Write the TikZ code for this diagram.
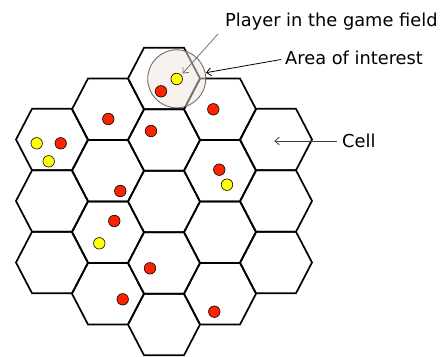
\documentclass[tikz,border=0pt]{standalone}
\usepackage{fontspec}
\setmainfont{DejaVu Sans}
\usetikzlibrary{arrows.meta}
\definecolor{dotred}{RGB}{255,34,0}
\definecolor{dotyellow}{RGB}{255,255,0}
\definecolor{aoifill}{RGB}{239,230,219}
\definecolor{aoiline}{RGB}{110,110,110}
\begin{document}
\begin{tikzpicture}[x=1pt,y=-1pt,
  hexline/.style={line width=1.7pt,line join=miter},
  dotbase/.style={circle,draw=black,line width=0.6pt,minimum size=11.5pt,inner sep=0pt},
  reddot/.style={dotbase,fill=dotred},
  yellowdot/.style={dotbase,fill=dotyellow},
  lbl/.style={anchor=base west,inner sep=0pt,font=\fontsize{17.8}{20}\selectfont},
  arr/.style={line width=0.8pt,-{Straight Barb[length=4.5pt,width=8pt]}}
]
\useasboundingbox (0,0) rectangle (446,356);
% hexagonal cells
\foreach \cx/\cy in {52/139.5,52/201,52/262.5,
                     108/109.25,108/170.75,108/232.25,108/293.75,
                     164/78.5,164/140,164/201.5,164/263,164/324.5,
                     220/109.25,220/170.75,220/232.25,220/293.75,
                     276/139.5,276/201,276/262.5}
  \draw[hexline] (\cx-36,\cy) -- ++(16,-30.75) -- ++(40,0) -- ++(16,30.75)
                 -- ++(-16,30.75) -- ++(-40,0) -- cycle;
% area of interest
\node[circle,draw=aoiline,line width=0.9pt,fill=aoifill,fill opacity=0.5,
      minimum size=58pt,inner sep=0pt] (aoi) at (176.7,78.8) {};
% players
\node[yellowdot] (p1) at (176.7,79) {};
\node[reddot] (p2) at (161,91.3) {};
\node[reddot] (p3) at (213.3,109.3) {};
\node[reddot] (p4) at (108.3,119) {};
\node[reddot] (p5) at (151,131) {};
\node[yellowdot] (p6) at (36.7,143.3) {};
\node[reddot] (p7) at (60.7,143.3) {};
\node[yellowdot] (p8) at (48.7,161.3) {};
\node[reddot] (p9) at (219.3,169.7) {};
\node[yellowdot] (p10) at (227,184.7) {};
\node[reddot] (p11) at (120.3,191) {};
\node[reddot] (p12) at (114.3,221) {};
\node[yellowdot] (p13) at (99.3,243.3) {};
\node[reddot] (p14) at (150,268.3) {};
\node[reddot] (p15) at (122.7,299.3) {};
\node[reddot] (p16) at (214.3,311.7) {};
% labels
\node[lbl] (lplayer) at (225,26.5) {Player in the game field};
\node[lbl] (laoi) at (285,64) {Area of interest};
\node[lbl] (lcell) at (342,147.5) {Cell};
% arrow end points
\coordinate (aplayerS) at (218,34);
\coordinate (aplayerE) at (182.5,73.5);
\coordinate (aaoiS) at (281,59.5);
\coordinate (aaoiE) at (206,72.7);
\coordinate (acellS) at (336.7,141);
\coordinate (acellE) at (274.3,141);
\draw[arr,draw=black!55] (aplayerS) -- (aplayerE);
\draw[arr,draw=black] (aaoiS) -- (aaoiE);
\draw[arr,draw=black!75] (acellS) -- (acellE);
\end{tikzpicture}
\end{document}
